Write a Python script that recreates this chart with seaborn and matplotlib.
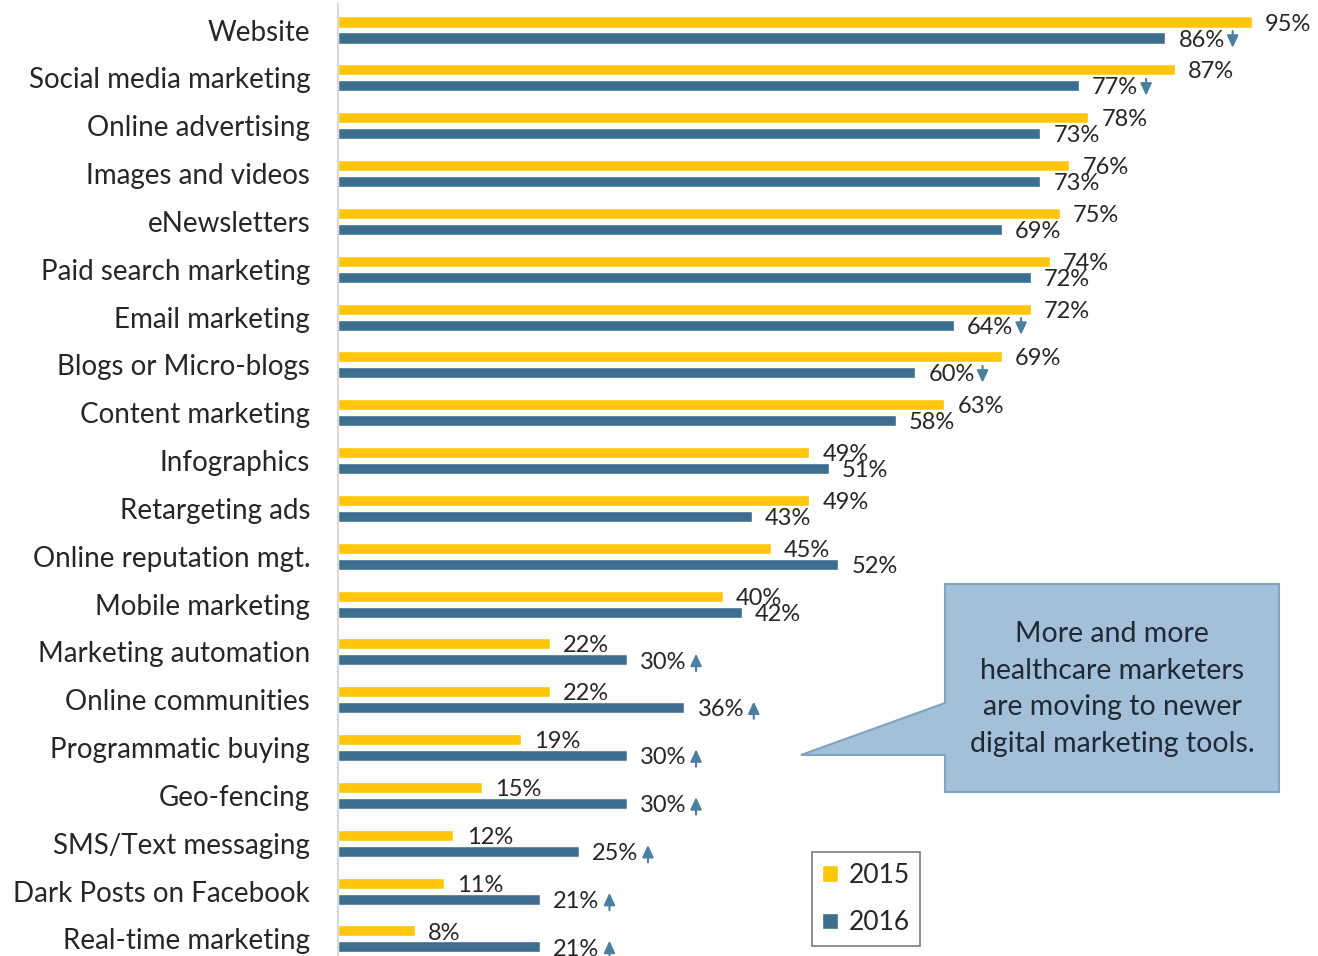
import matplotlib
matplotlib.use("Agg")
import matplotlib.pyplot as plt
import seaborn as sns
import pandas as pd
from matplotlib.patches import Polygon
from matplotlib.transforms import offset_copy

categories = ["Website", "Social media marketing", "Online advertising", "Images and videos",
              "eNewsletters", "Paid search marketing", "Email marketing", "Blogs or Micro-blogs",
              "Content marketing", "Infographics", "Retargeting ads", "Online reputation mgt.",
              "Mobile marketing", "Marketing automation", "Online communities",
              "Programmatic buying", "Geo-fencing", "SMS/Text messaging",
              "Dark Posts on Facebook", "Real-time marketing"]
values_2015 = [95, 87, 78, 76, 75, 74, 72, 69, 63, 49, 49, 45, 40, 22, 22, 19, 15, 12, 11, 8]
values_2016 = [86, 77, 73, 73, 69, 72, 64, 60, 58, 51, 43, 52, 42, 30, 36, 30, 30, 25, 21, 21]
trend_2016 = ["down", "down", "", "", "", "", "down", "down", "", "", "", "", "",
              "up", "up", "up", "up", "up", "up", "up"]
years = ["2015", "2016"]
callout_text = "More and more\nhealthcare marketers\nare moving to newer\ndigital marketing tools."

YELLOW = "#FFC60B"
BLUE = "#3D6E8F"
ARROW = "#4B7FA0"
TEXT = "#262626"

df = pd.DataFrame({
    "category": categories * 2,
    "value": values_2015 + values_2016,
    "year": [years[0]] * len(categories) + [years[1]] * len(categories),
})

sns.set_theme(style="white")
plt.rcParams["font.family"] = ["Lato", "DejaVu Sans"]

W, H = 1318, 956
fig = plt.figure(figsize=(W / 100, H / 100), dpi=100)
ax = fig.add_axes([338 / W, 1 - 955.7 / H, (1300 - 338) / W, (955.7 - 3.7) / H])

sns.barplot(data=df, y="category", x="value", hue="year", order=categories,
            hue_order=years, palette=[YELLOW, BLUE], orient="h", width=0.67,
            gap=0.31, saturation=1, ax=ax, legend=True)

ax.set_xlim(0, 100)
ax.set_ylim(19.35, -0.55)
ax.set_xlabel("")
ax.set_ylabel("")
ax.set_xticks([])
for s in ["top", "right", "bottom"]:
    ax.spines[s].set_visible(False)
ax.spines["left"].set_color("#D9D9D9")
ax.spines["left"].set_linewidth(1.5)
ax.tick_params(axis="y", length=0, pad=20, labelsize=20, labelcolor=TEXT)

# value labels
for cont, vals in zip(ax.containers, [values_2015, values_2016]):
    for bar, v in zip(cont, vals):
        yc = bar.get_y() + bar.get_height() / 2
        ax.annotate(f"{v}%", xy=(bar.get_width(), yc), xytext=(9.5, -1.5),
                    textcoords="offset points", ha="left", va="center",
                    fontsize=17, color=TEXT)

# trend arrows
for bar, t in zip(ax.containers[1], trend_2016):
    if not t:
        continue
    yc = bar.get_y() + bar.get_height() / 2
    x0 = bar.get_width()
    if t == "down":
        start, end = (48.5, 5), (48.5, -7)
    else:
        start, end = (50, -8), (50, 4.5)
    tr0 = offset_copy(ax.transData, fig=fig, x=start[0], y=start[1], units="points")
    tr1 = offset_copy(ax.transData, fig=fig, x=end[0], y=end[1], units="points")
    ax.annotate("", xy=(x0, yc), xycoords=tr1, xytext=(x0, yc), textcoords=tr0,
                arrowprops=dict(arrowstyle="-|>,head_length=0.6,head_width=0.28",
                                color=ARROW, lw=1.5, shrinkA=0, shrinkB=0),
                annotation_clip=False)

# legend
handles, labels = ax.get_legend_handles_labels()
leg = ax.legend(handles, labels, loc="center", bbox_to_anchor=(866 / W, 1 - 899 / H),
                bbox_transform=fig.transFigure, frameon=True, fancybox=False,
                fontsize=19, handlelength=0.6, handleheight=0.6, handletextpad=0.4,
                labelspacing=0.85, borderpad=0.4, title=None)
leg.get_frame().set_edgecolor("#595959")
leg.get_frame().set_linewidth(1.2)
for t in leg.get_texts():
    t.set_color(TEXT)

# callout
def px(x, y):
    return (x / W, 1 - y / H)

pts = [px(945, 584), px(1279, 584), px(1279, 792), px(945, 792),
       px(945, 755), px(801, 755), px(945, 703)]
poly = Polygon(pts, closed=True, transform=fig.transFigure, facecolor="#A3C0D8",
               edgecolor="#7FA3C2", linewidth=1.5, zorder=5)
fig.patches.append(poly)
cx, cy = px(1112, 689)
fig.text(cx, cy, callout_text, ha="center", va="center", fontsize=20.5,
         color="#1F2A36", linespacing=1.5, zorder=6)

fig.savefig("out.png", dpi=100)
